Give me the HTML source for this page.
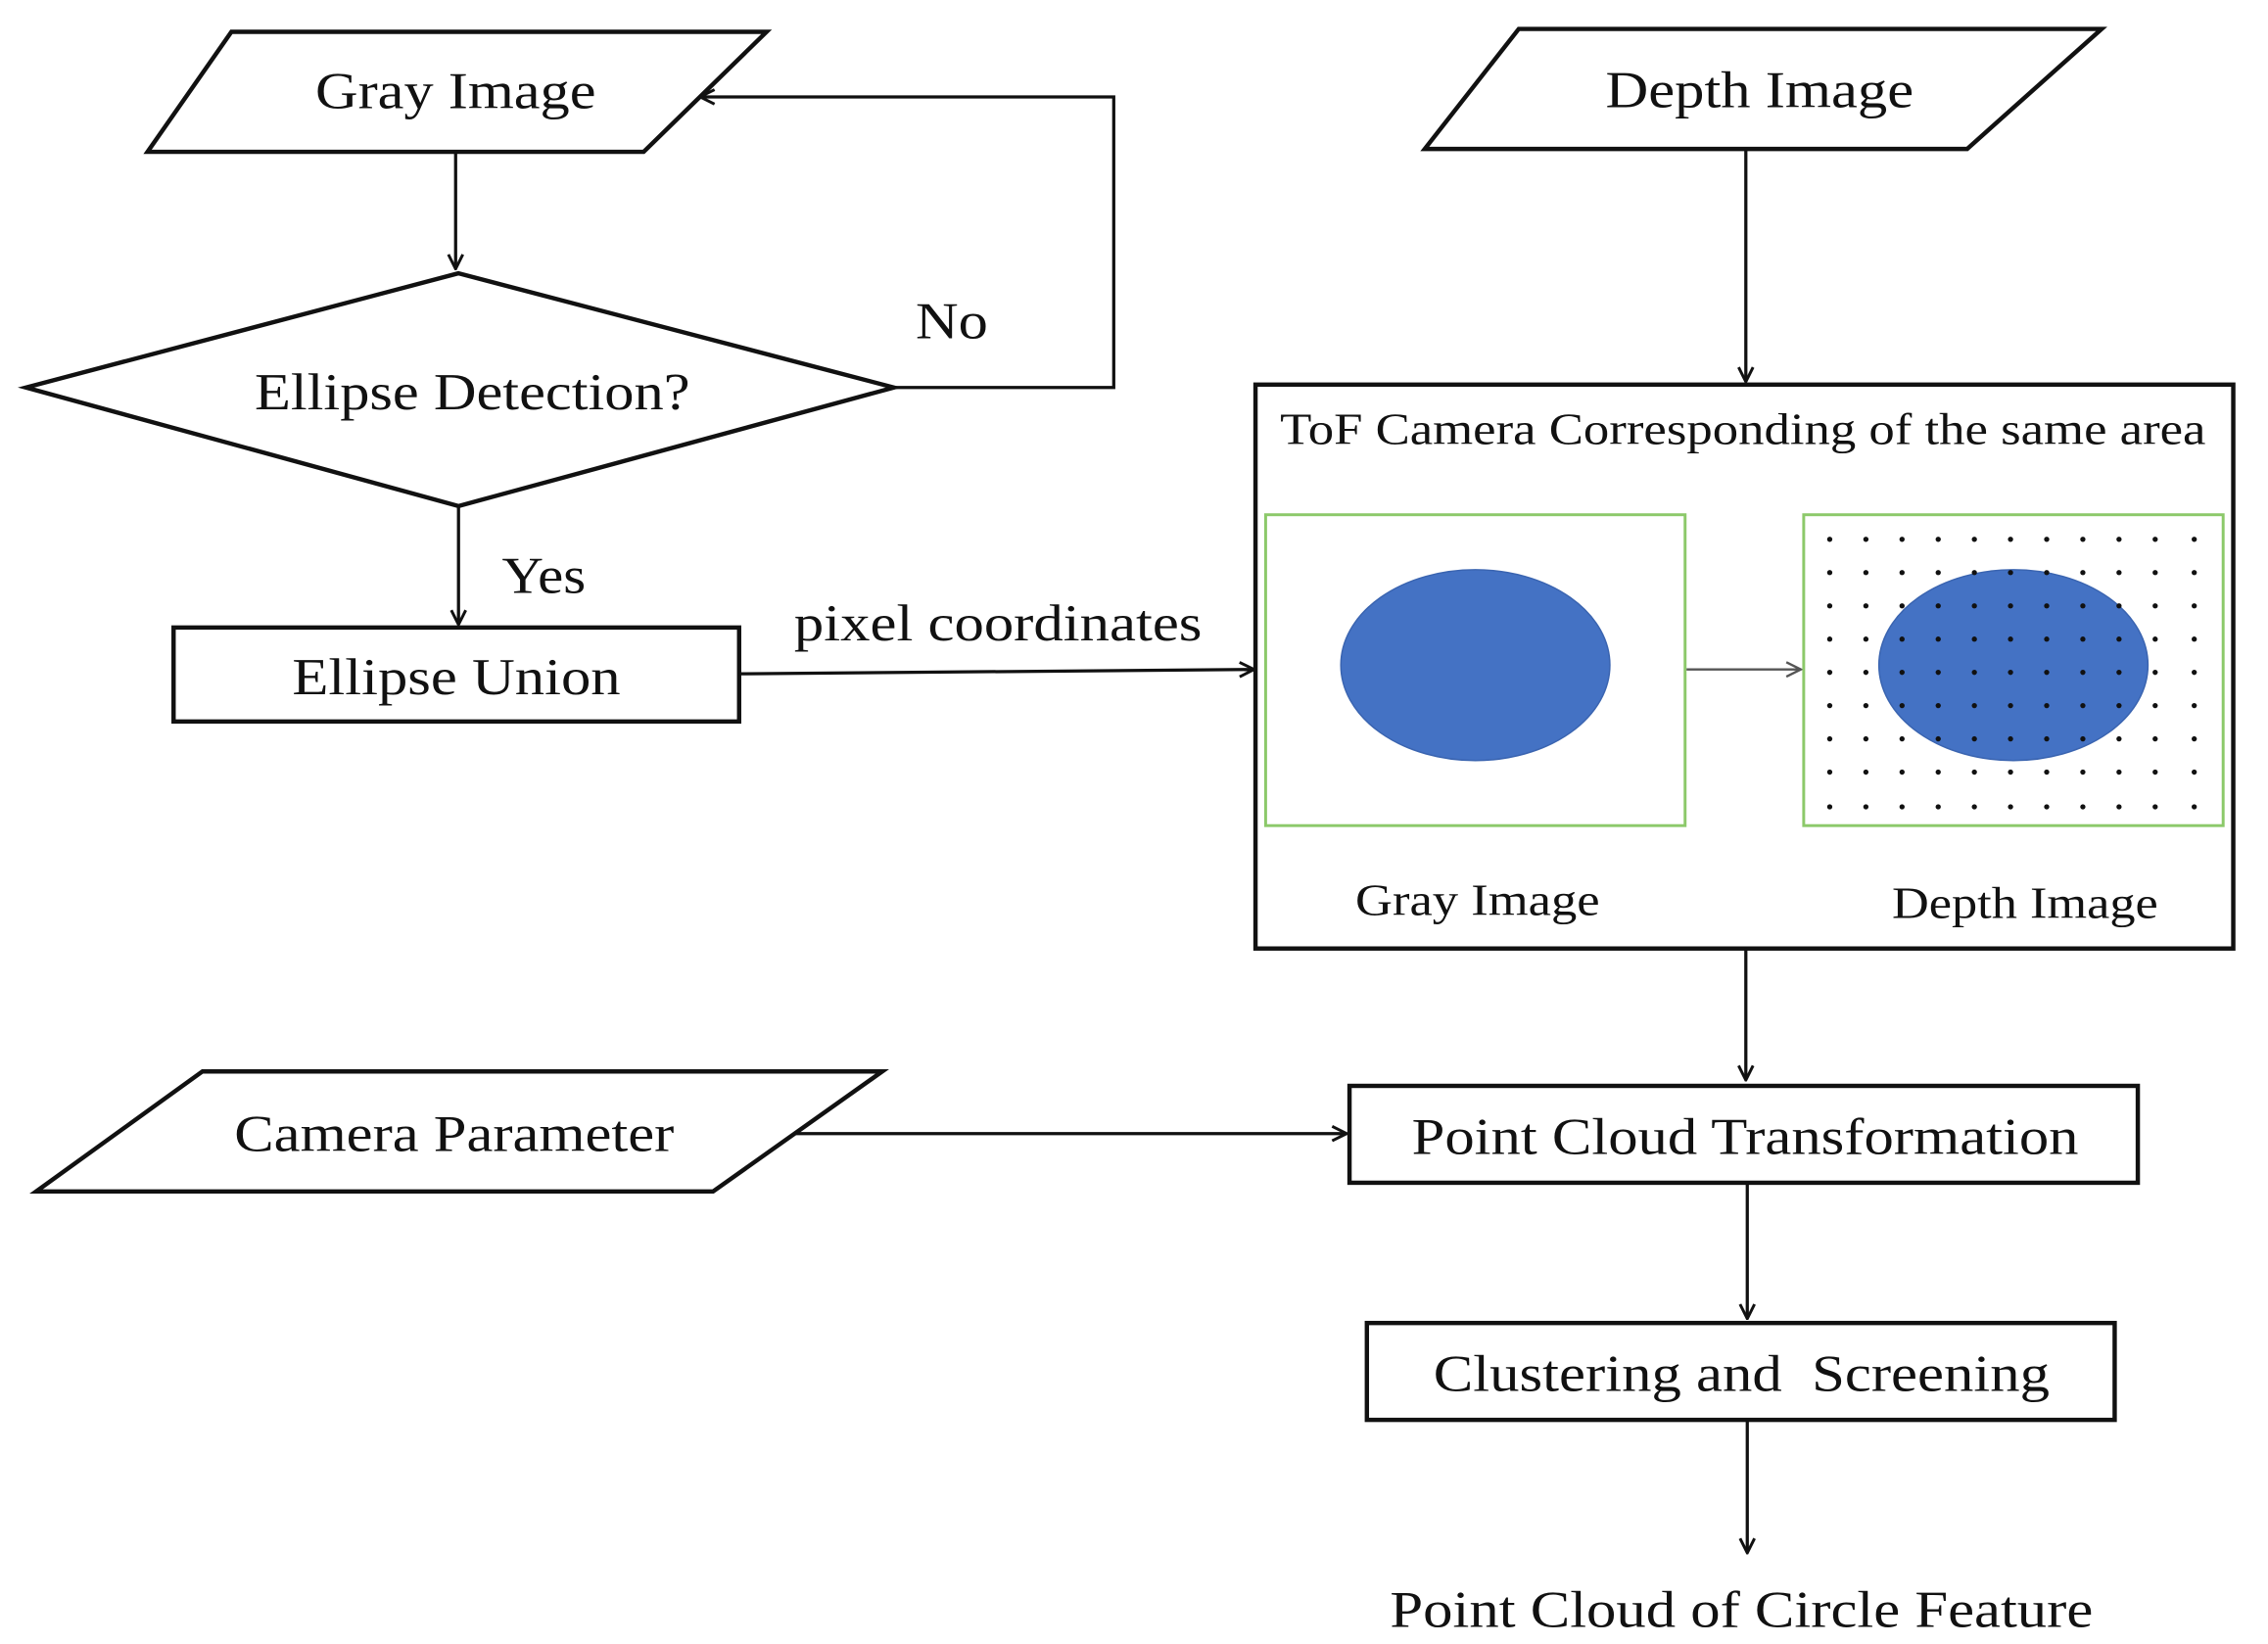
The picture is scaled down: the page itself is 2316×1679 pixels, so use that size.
<!DOCTYPE html>
<html><head><meta charset="utf-8"><style>
html,body{margin:0;padding:0;background:#fff;}
svg{display:block;}
text{font-family:"Liberation Serif","Times New Roman",serif;fill:#111;}
</style></head><body>
<svg width="2316" height="1679" viewBox="0 0 1568 1137" preserveAspectRatio="none" xmlns="http://www.w3.org/2000/svg">
<defs>
<marker id="a" viewBox="0 0 12 12" refX="11" refY="6" markerWidth="12" markerHeight="12" markerUnits="userSpaceOnUse" orient="auto">
<path d="M1,1 L11,6 L1,11" fill="none" stroke="#111" stroke-width="2"/>
</marker>
<marker id="g" viewBox="0 0 12 12" refX="11" refY="6" markerWidth="12" markerHeight="12" markerUnits="userSpaceOnUse" orient="auto">
<path d="M1,1 L11,6 L1,11" fill="none" stroke="#555" stroke-width="1.6"/>
</marker>
</defs>
<g fill="none" stroke="#111" stroke-width="3">
<polygon points="160,22 530,22 445,105 102,105"/>
<polygon points="317,189 618,268 317,350 18,268"/>
<rect x="120" y="434" width="391" height="65"/>
<polygon points="1050,20 1453,20 1360,103 985,103"/>
<rect x="868" y="266" width="676" height="390"/>
<polygon points="140,741 610,741 493,824 25,824"/>
<rect x="933" y="751" width="545" height="67"/>
<rect x="945" y="915" width="517" height="67"/>
</g>
<g fill="none" stroke="#111" stroke-width="2.2">
<line x1="315" y1="105" x2="315" y2="186" marker-end="url(#a)"/>
<polyline points="618,268 770,268 770,67 484,67" marker-end="url(#a)"/>
<line x1="317" y1="350" x2="317" y2="432" marker-end="url(#a)"/>
<line x1="511" y1="466" x2="867" y2="463" marker-end="url(#a)"/>
<line x1="1207" y1="103" x2="1207" y2="264" marker-end="url(#a)"/>
<line x1="1207" y1="656" x2="1207" y2="747" marker-end="url(#a)"/>
<line x1="550" y1="784" x2="931" y2="784" marker-end="url(#a)"/>
<line x1="1208" y1="818" x2="1208" y2="912" marker-end="url(#a)"/>
<line x1="1208" y1="982" x2="1208" y2="1074" marker-end="url(#a)"/>
</g>
<rect x="875" y="356" width="290" height="215" fill="none" stroke="#8cc96a" stroke-width="2"/>
<rect x="1247" y="356" width="290" height="215" fill="none" stroke="#8cc96a" stroke-width="2"/>
<ellipse cx="1020" cy="460" rx="93" ry="66" fill="#4472C4" stroke="#3a64b0" stroke-width="1"/>
<ellipse cx="1392" cy="460" rx="93" ry="66" fill="#4472C4" stroke="#3a64b0" stroke-width="1"/>
<line x1="1166" y1="463" x2="1245" y2="463" stroke="#555" stroke-width="1.6" marker-end="url(#g)"/>
<g fill="#111">
<circle cx="1265" cy="373" r="1.8"/><circle cx="1265" cy="396" r="1.8"/><circle cx="1265" cy="419" r="1.8"/><circle cx="1265" cy="442" r="1.8"/><circle cx="1265" cy="465" r="1.8"/><circle cx="1265" cy="488" r="1.8"/><circle cx="1265" cy="511" r="1.8"/><circle cx="1265" cy="534" r="1.8"/><circle cx="1265" cy="558" r="1.8"/>
<circle cx="1290" cy="373" r="1.8"/><circle cx="1290" cy="396" r="1.8"/><circle cx="1290" cy="419" r="1.8"/><circle cx="1290" cy="442" r="1.8"/><circle cx="1290" cy="465" r="1.8"/><circle cx="1290" cy="488" r="1.8"/><circle cx="1290" cy="511" r="1.8"/><circle cx="1290" cy="534" r="1.8"/><circle cx="1290" cy="558" r="1.8"/>
<circle cx="1315" cy="373" r="1.8"/><circle cx="1315" cy="396" r="1.8"/><circle cx="1315" cy="419" r="1.8"/><circle cx="1315" cy="442" r="1.8"/><circle cx="1315" cy="465" r="1.8"/><circle cx="1315" cy="488" r="1.8"/><circle cx="1315" cy="511" r="1.8"/><circle cx="1315" cy="534" r="1.8"/><circle cx="1315" cy="558" r="1.8"/>
<circle cx="1340" cy="373" r="1.8"/><circle cx="1340" cy="396" r="1.8"/><circle cx="1340" cy="419" r="1.8"/><circle cx="1340" cy="442" r="1.8"/><circle cx="1340" cy="465" r="1.8"/><circle cx="1340" cy="488" r="1.8"/><circle cx="1340" cy="511" r="1.8"/><circle cx="1340" cy="534" r="1.8"/><circle cx="1340" cy="558" r="1.8"/>
<circle cx="1365" cy="373" r="1.8"/><circle cx="1365" cy="396" r="1.8"/><circle cx="1365" cy="419" r="1.8"/><circle cx="1365" cy="442" r="1.8"/><circle cx="1365" cy="465" r="1.8"/><circle cx="1365" cy="488" r="1.8"/><circle cx="1365" cy="511" r="1.8"/><circle cx="1365" cy="534" r="1.8"/><circle cx="1365" cy="558" r="1.8"/>
<circle cx="1390" cy="373" r="1.8"/><circle cx="1390" cy="396" r="1.8"/><circle cx="1390" cy="419" r="1.8"/><circle cx="1390" cy="442" r="1.8"/><circle cx="1390" cy="465" r="1.8"/><circle cx="1390" cy="488" r="1.8"/><circle cx="1390" cy="511" r="1.8"/><circle cx="1390" cy="534" r="1.8"/><circle cx="1390" cy="558" r="1.8"/>
<circle cx="1415" cy="373" r="1.8"/><circle cx="1415" cy="396" r="1.8"/><circle cx="1415" cy="419" r="1.8"/><circle cx="1415" cy="442" r="1.8"/><circle cx="1415" cy="465" r="1.8"/><circle cx="1415" cy="488" r="1.8"/><circle cx="1415" cy="511" r="1.8"/><circle cx="1415" cy="534" r="1.8"/><circle cx="1415" cy="558" r="1.8"/>
<circle cx="1440" cy="373" r="1.8"/><circle cx="1440" cy="396" r="1.8"/><circle cx="1440" cy="419" r="1.8"/><circle cx="1440" cy="442" r="1.8"/><circle cx="1440" cy="465" r="1.8"/><circle cx="1440" cy="488" r="1.8"/><circle cx="1440" cy="511" r="1.8"/><circle cx="1440" cy="534" r="1.8"/><circle cx="1440" cy="558" r="1.8"/>
<circle cx="1465" cy="373" r="1.8"/><circle cx="1465" cy="396" r="1.8"/><circle cx="1465" cy="419" r="1.8"/><circle cx="1465" cy="442" r="1.8"/><circle cx="1465" cy="465" r="1.8"/><circle cx="1465" cy="488" r="1.8"/><circle cx="1465" cy="511" r="1.8"/><circle cx="1465" cy="534" r="1.8"/><circle cx="1465" cy="558" r="1.8"/>
<circle cx="1490" cy="373" r="1.8"/><circle cx="1490" cy="396" r="1.8"/><circle cx="1490" cy="419" r="1.8"/><circle cx="1490" cy="442" r="1.8"/><circle cx="1490" cy="465" r="1.8"/><circle cx="1490" cy="488" r="1.8"/><circle cx="1490" cy="511" r="1.8"/><circle cx="1490" cy="534" r="1.8"/><circle cx="1490" cy="558" r="1.8"/>
<circle cx="1517" cy="373" r="1.8"/><circle cx="1517" cy="396" r="1.8"/><circle cx="1517" cy="419" r="1.8"/><circle cx="1517" cy="442" r="1.8"/><circle cx="1517" cy="465" r="1.8"/><circle cx="1517" cy="488" r="1.8"/><circle cx="1517" cy="511" r="1.8"/><circle cx="1517" cy="534" r="1.8"/><circle cx="1517" cy="558" r="1.8"/>
</g>
<g font-size="36">
<text x="218" y="75" textLength="194" lengthAdjust="spacingAndGlyphs">Gray Image</text>
<text x="176" y="283" textLength="301" lengthAdjust="spacingAndGlyphs">Ellipse Detection?</text>
<text x="633" y="234" textLength="50" lengthAdjust="spacingAndGlyphs">No</text>
<text x="347" y="410" textLength="58" lengthAdjust="spacingAndGlyphs">Yes</text>
<text x="202" y="480" textLength="227" lengthAdjust="spacingAndGlyphs">Ellipse Union</text>
<text x="549" y="443" textLength="282" lengthAdjust="spacingAndGlyphs">pixel coordinates</text>
<text x="1110" y="74" textLength="213" lengthAdjust="spacingAndGlyphs">Depth Image</text>
<text x="162" y="796" textLength="304" lengthAdjust="spacingAndGlyphs">Camera Parameter</text>
<text x="976" y="798" textLength="461" lengthAdjust="spacingAndGlyphs">Point Cloud Transformation</text>
<text x="991" y="962" textLength="426" lengthAdjust="spacingAndGlyphs" xml:space="preserve">Clustering and  Screening</text>
<text x="961" y="1125" textLength="486" lengthAdjust="spacingAndGlyphs">Point Cloud of Circle Feature</text>
</g>
<g font-size="31">
<text x="885" y="307" textLength="640" lengthAdjust="spacingAndGlyphs">ToF Camera Corresponding of the same area</text>
<text x="937" y="633" textLength="169" lengthAdjust="spacingAndGlyphs">Gray Image</text>
<text x="1308" y="635" textLength="184" lengthAdjust="spacingAndGlyphs">Depth Image</text>
</g>
</svg>
</body></html>
